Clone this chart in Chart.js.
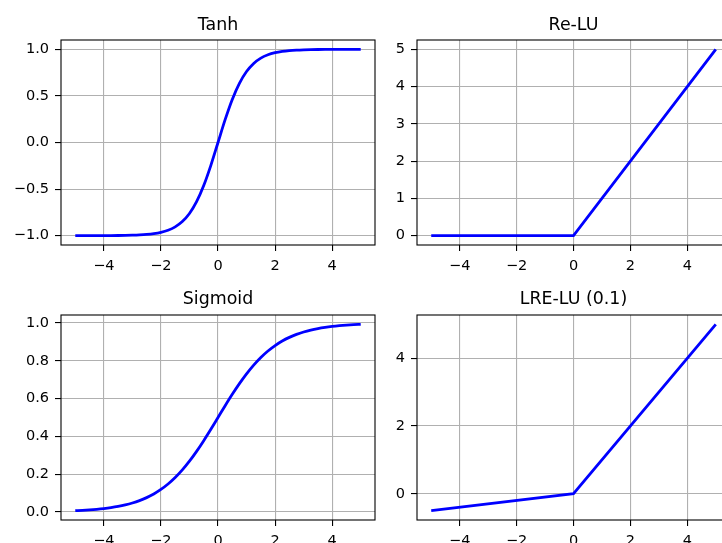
<!DOCTYPE html>
<html>
<head>
<meta charset="utf-8">
<script src="https://cdn.jsdelivr.net/npm/chart.js@4.4.1/dist/chart.umd.min.js"></script>
<style>
  html, body { margin: 0; padding: 0; width: 722px; height: 543px; overflow: hidden; background: #fff; }
  canvas { position: absolute; }
</style>
</head>
<body>
<canvas id="cTanh"  width="380" height="280" style="left:0;top:0"></canvas>
<canvas id="cRelu"  width="356" height="280" style="left:380px;top:0"></canvas>
<canvas id="cSig"   width="380" height="280" style="left:0;top:280px"></canvas>
<canvas id="cLrelu" width="356" height="280" style="left:380px;top:280px"></canvas>
<script>
// Sample inputs for the smooth curves
const xs = [-5, -4.75, -4.5, -4.25, -4, -3.75, -3.5, -3.25, -3, -2.75, -2.5, -2.25, -2, -1.75, -1.5, -1.25, -1, -0.75, -0.5, -0.25,
            0, 0.25, 0.5, 0.75, 1, 1.25, 1.5, 1.75, 2, 2.25, 2.5, 2.75, 3, 3.25, 3.5, 3.75, 4, 4.25, 4.5, 4.75, 5];

const tanhValues = [-0.9999, -0.9999, -0.9998, -0.9996, -0.9993, -0.9989, -0.9982, -0.9970, -0.9951, -0.9919, -0.9866, -0.9780, -0.9640, -0.9414, -0.9051, -0.8483, -0.7616, -0.6351, -0.4621, -0.2449,
                    0, 0.2449, 0.4621, 0.6351, 0.7616, 0.8483, 0.9051, 0.9414, 0.9640, 0.9780, 0.9866, 0.9919, 0.9951, 0.9970, 0.9982, 0.9989, 0.9993, 0.9996, 0.9998, 0.9999, 0.9999];

const sigmoidValues = [0.0067, 0.0086, 0.0110, 0.0141, 0.0180, 0.0230, 0.0293, 0.0373, 0.0474, 0.0601, 0.0759, 0.0953, 0.1192, 0.1480, 0.1824, 0.2227, 0.2689, 0.3208, 0.3775, 0.4378,
                       0.5, 0.5622, 0.6225, 0.6792, 0.7311, 0.7773, 0.8176, 0.8520, 0.8808, 0.9047, 0.9241, 0.9399, 0.9526, 0.9627, 0.9707, 0.9770, 0.9820, 0.9859, 0.9890, 0.9914, 0.9933];

// Piecewise-linear functions: break points only
const kneeXs = [-5, 0, 5];
const reluValues = [0, 0, 5];
const lreluValues = [-0.5, 0, 5];

// Tick positions and labels
const xTicks = [-4, -2, 0, 2, 4];
const xTickLabels = ['\u22124', '\u22122', '0', '2', '4'];
const tanhTicks = [-1, -0.5, 0, 0.5, 1];
const tanhTickLabels = ['\u22121.0', '\u22120.5', '0.0', '0.5', '1.0'];
const reluTicks = [0, 1, 2, 3, 4, 5];
const reluTickLabels = ['0', '1', '2', '3', '4', '5'];
const sigTicks = [0, 0.2, 0.4, 0.6, 0.8, 1.0];
const sigTickLabels = ['0.0', '0.2', '0.4', '0.6', '0.8', '1.0'];
const lreluTicks = [0, 2, 4];
const lreluTickLabels = ['0', '2', '4'];

const FONT = 'DejaVu Sans';
const GRID = '#b0b0b0';

// Black frame around each plotting area, plus a title centred over it
const framePlugin = {
  id: 'frame',
  afterDraw(chart, args, opts) {
    const { ctx, chartArea: a } = chart;
    ctx.save();
    ctx.strokeStyle = '#000';
    ctx.lineWidth = 1.1;
    ctx.strokeRect(a.left, a.top, a.right - a.left, a.bottom - a.top);
    ctx.fillStyle = '#000';
    ctx.font = '17.4px "' + FONT + '"';
    ctx.textAlign = 'center';
    ctx.textBaseline = 'alphabetic';
    ctx.fillText(opts.text, (a.left + a.right) / 2, opts.baseline);
    ctx.restore();
  }
};

function makeAxis(ticks, labels, min, max, fitFn, pad) {
  return {
    type: 'linear',
    min, max,
    afterBuildTicks: (axis) => { axis.ticks = ticks.map(v => ({ value: v })); },
    afterFit: fitFn,
    border: { display: false },
    grid: {
      color: GRID, lineWidth: 1.1,
      drawTicks: true, tickLength: 6, tickColor: '#000', tickWidth: 1.1
    },
    ticks: {
      color: '#000',
      font: { family: FONT, size: 14.5 },
      padding: pad,
      maxRotation: 0,
      autoSkip: false,
      callback: (v, i) => labels[i]
    }
  };
}

function panel(id, title, titleBaseline, xVals, yVals, smooth, yTicks, yLabels, yMin, yMax, yWidth, xHeight, topPad, rightPad) {
  const pts = xVals.map((x, i) => ({ x, y: yVals[i] }));
  new Chart(document.getElementById(id), {
    type: 'line',
    data: {
      datasets: [{
        data: pts,
        borderColor: '#0000ff',
        borderWidth: 2.8,
        pointRadius: 0,
        fill: false,
        cubicInterpolationMode: smooth ? 'monotone' : 'default',
        tension: 0
      }]
    },
    options: {
      responsive: false,
      animation: false,
      devicePixelRatio: 1,
      layout: { padding: { left: 0, right: rightPad, top: topPad, bottom: 0 } },
      plugins: {
        legend: { display: false },
        tooltip: { enabled: false },
        title: { display: false },
        frame: { text: title, baseline: titleBaseline }
      },
      scales: {
        x: makeAxis(xTicks, xTickLabels, -5.5, 5.5, (s) => { s.height = xHeight; }, 7),
        y: makeAxis(yTicks, yLabels, yMin, yMax, (s) => { s.width = yWidth; }, 6)
      }
    },
    plugins: [framePlugin]
  });
}

// Top row
panel('cTanh', 'Tanh', 30, xs, tanhValues, true, tanhTicks, tanhTickLabels, -1.1, 1.1, 61, 35, 40, 5);
panel('cRelu', 'Re-LU', 30, kneeXs, reluValues, false, reluTicks, reluTickLabels, -0.25, 5.25, 37, 35, 40, 6);
// Bottom row
panel('cSig', 'Sigmoid', 24, xs, sigmoidValues, true, sigTicks, sigTickLabels, -0.0426, 1.0426, 61, 40, 35, 5);
panel('cLrelu', 'LRE-LU (0.1)', 24, kneeXs, lreluValues, false, lreluTicks, lreluTickLabels, -0.775, 5.275, 37, 40, 35, 6);
</script>
</body>
</html>
